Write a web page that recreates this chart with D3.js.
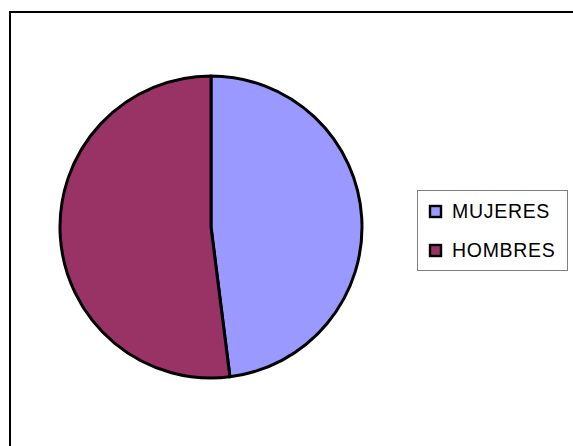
<!DOCTYPE html>
<html><head><meta charset="utf-8">
<script src="https://cdn.jsdelivr.net/npm/d3@7"></script>
<style>html,body{margin:0;padding:0;background:#fff;}svg{display:block;}</style>
</head><body>
<svg id="chart" width="573" height="446"></svg>
<script>
const categories = ["MUJERES", "HOMBRES"];
const values = [48, 52];
const colors = ["#9999FF", "#993366"];

const svg = d3.select("#chart");
// outer chart frame
svg.append("rect").attr("x", 10).attr("y", 12).attr("width", 600).attr("height", 500)
  .attr("fill", "#fff").attr("stroke", "#000").attr("stroke-width", 2);

const cx = 211, cy = 227, r = 151;
const pie = d3.pie().sort(null).value(d => d)(values);
const arc = d3.arc().innerRadius(0).outerRadius(r);
const color = d3.scaleOrdinal().domain(categories).range(colors);

svg.append("g").attr("transform", `translate(${cx},${cy})`)
  .selectAll("path").data(pie).join("path")
  .attr("d", arc)
  .attr("fill", (d, i) => color(categories[i]))
  .attr("stroke", "#000").attr("stroke-width", 3).attr("stroke-linejoin", "round");

// legend
const lg = svg.append("g");
lg.append("rect").attr("x", 417.5).attr("y", 190.5).attr("width", 150).attr("height", 80)
  .attr("fill", "#fff").attr("stroke", "#808080").attr("stroke-width", 1);
const ly = d3.scalePoint().domain(categories).range([218, 257]);
categories.forEach(c => {
  lg.append("rect").attr("x", 430).attr("y", ly(c) - 12).attr("width", 11).attr("height", 11)
    .attr("fill", color(c)).attr("stroke", "#000").attr("stroke-width", 2.4);
  lg.append("text").attr("x", 452).attr("y", ly(c))
    .attr("font-family", "Liberation Sans, Arial, sans-serif").attr("font-size", 19.5)
    .attr("letter-spacing", 0.7).attr("fill", "#000").text(c);
});
</script>
</body></html>
